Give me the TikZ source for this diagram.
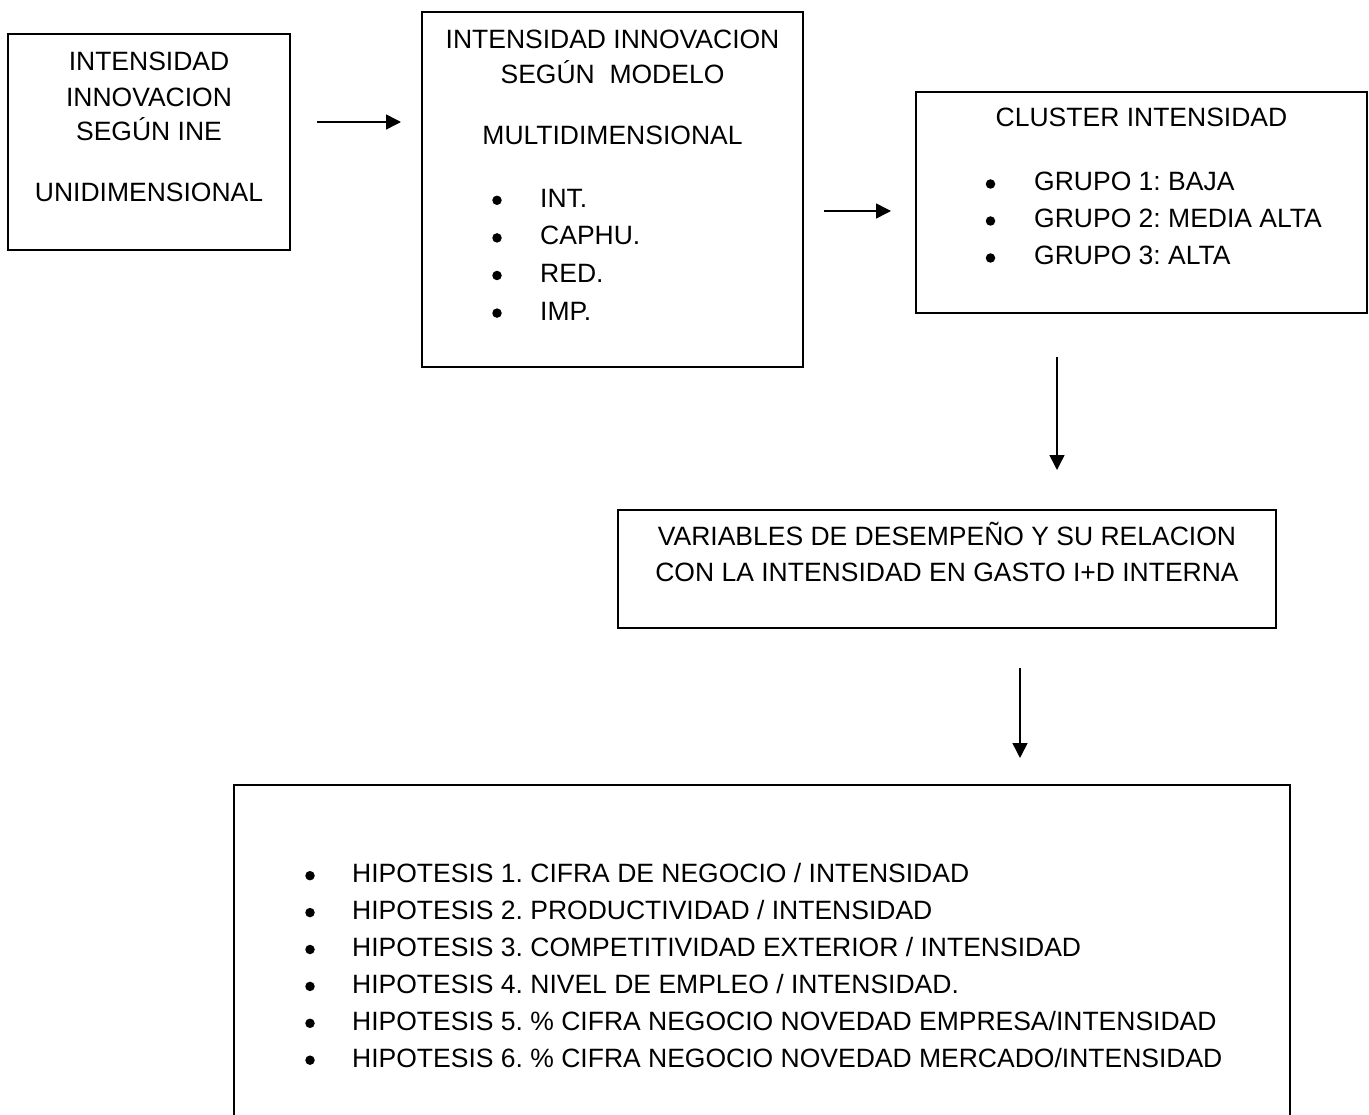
\documentclass[tikz,border=0pt]{standalone}
\usepackage{fontspec}
\setmainfont{Liberation Sans}
\usetikzlibrary{arrows.meta}
\frenchspacing
\begin{document}
\begin{tikzpicture}[x=1pt,y=-1pt,
  box/.style={draw, line width=1.6pt, rectangle, inner sep=0pt},
  txt/.style={anchor=base, inner sep=0pt, font=\fontsize{26.5pt}{32pt}\selectfont},
  ltxt/.style={txt, anchor=base west},
  dot/.style={circle, fill, inner sep=0pt, minimum size=9.5pt},
  flow/.style={-{Triangle[length=15pt,width=15pt]}, line width=1.5pt}]
\clip (0,0) rectangle (1369,1115);

% frames
\node[box, minimum width=282pt, minimum height=216pt]  (ine)   at (149,142)   {};
\node[box, minimum width=381pt, minimum height=355pt]  (multi) at (612.5,189.5) {};
\node[box, minimum width=451pt, minimum height=221pt]  (clus)  at (1141.5,202.5) {};
\node[box, minimum width=658pt, minimum height=118pt]  (vars)  at (947,569)   {};
\node[box, minimum width=1056pt, minimum height=430pt] (hyp)   at (762,1000)  {};

% unidimensional measure
\node[txt] (ine1) at (149,71)  {INTENSIDAD};
\node[txt] (ine2) at (149,107) {INNOVACION};
\node[txt] (ine3) at (149,141) {SEGÚN INE};
\node[txt] (ine4) at (149,202) {UNIDIMENSIONAL};

% multidimensional model
\node[txt] (mul1) at (612.5,48.3)  {INTENSIDAD INNOVACION};
\node[txt] (mul2) at (612.5,83.3)  {SEGÚN\ \ MODELO};
\node[txt] (mul3) at (612.5,145)   {MULTIDIMENSIONAL};
\foreach \t [count=\i] in {INT., CAPHU., RED., IMP.}{
  \node[ltxt] (dim\i) at (540,{207.3+37.6*(\i-1)}) {\t};
  \node[dot]  (dimb\i) at (497,{207.3+37.6*(\i-1)-7}) {};
}

% clusters
\node[txt] (cl0) at (1141.5,127) {CLUSTER INTENSIDAD};
\foreach \t [count=\i] in {GRUPO 1: BAJA, GRUPO 2: MEDIA ALTA, GRUPO 3: ALTA}{
  \node[ltxt] (cl\i) at (1034,{191+37*(\i-1)}) {\t};
  \node[dot]  (clb\i) at (990.5,{191+37*(\i-1)-7}) {};
}

% performance variables
\node[txt] (va1) at (947,545) {VARIABLES DE DESEMPEÑO Y SU RELACION};
\node[txt] (va2) at (947,581) {CON LA INTENSIDAD EN GASTO I+D INTERNA};

% hypotheses
\foreach \t [count=\i] in {
  HIPOTESIS 1. CIFRA DE NEGOCIO / INTENSIDAD,
  HIPOTESIS 2. PRODUCTIVIDAD / INTENSIDAD,
  HIPOTESIS 3. COMPETITIVIDAD EXTERIOR / INTENSIDAD,
  HIPOTESIS 4. NIVEL DE EMPLEO / INTENSIDAD.,
  HIPOTESIS 5. \% CIFRA NEGOCIO NOVEDAD EMPRESA/INTENSIDAD,
  HIPOTESIS 6. \% CIFRA NEGOCIO NOVEDAD MERCADO/INTENSIDAD}{
  \node[ltxt] (h\i) at (352,{882.7+36.9*(\i-1)}) {\t};
  \node[dot]  (hb\i) at (310,{882.7+36.9*(\i-1)-7}) {};
}

% flow arrows
\coordinate (a1s) at (317,122);  \coordinate (a1e) at (401,122);
\coordinate (a2s) at (824,211);  \coordinate (a2e) at (891,211);
\coordinate (a3s) at (1057,357); \coordinate (a3e) at (1057,470);
\coordinate (a4s) at (1020,668); \coordinate (a4e) at (1020,758);
\draw[flow] (a1s) -- (a1e);
\draw[flow] (a2s) -- (a2e);
\draw[flow] (a3s) -- (a3e);
\draw[flow] (a4s) -- (a4e);
\end{tikzpicture}
\end{document}
